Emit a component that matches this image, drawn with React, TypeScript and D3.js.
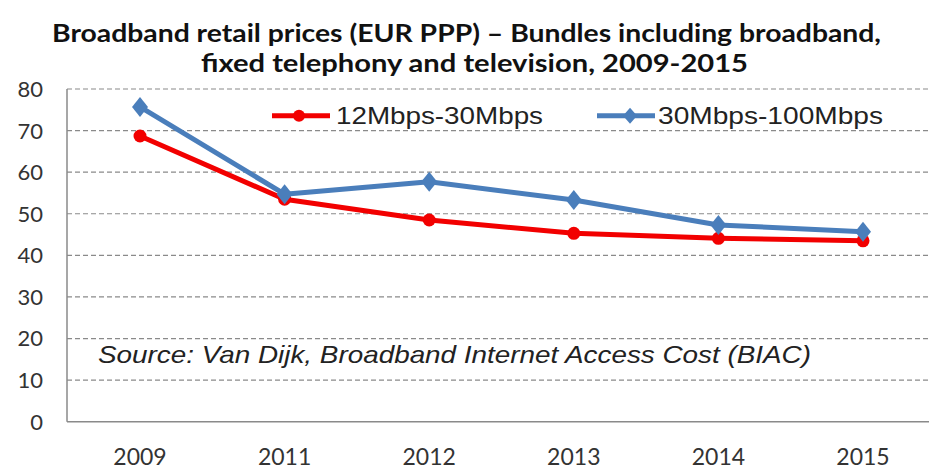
import React from "react";
import * as d3 from "d3";

const years = ["2009", "2011", "2012", "2013", "2014", "2015"];
const seriesLow = [68.7, 53.5, 48.5, 45.3, 44.1, 43.5];
const seriesHigh = [75.7, 54.7, 57.7, 53.3, 47.3, 45.7];
const seriesNames = ["12Mbps-30Mbps", "30Mbps-100Mbps"];
const yTicks = [0, 10, 20, 30, 40, 50, 60, 70, 80];
const titleLines = [
  "Broadband retail prices (EUR PPP) \u2013 Bundles including broadband,",
  "fixed telephony and television, 2009-2015",
];
const sourceNote = "Source: Van Dijk, Broadband Internet Access Cost (BIAC)";

const W = 929;
const H = 470;
const RED = "#F20000";
const BLUE = "#4A7EBB";

export default function App() {
  const x = d3.scaleBand<string>().domain(years).range([67.7, 935.3]).padding(0);
  const y = d3.scaleLinear().domain([0, 80]).range([421.7, 89]);
  const cx = (d: string) => (x(d) as number) + x.bandwidth() / 2;

  const line = d3
    .line<number>()
    .x((_, i) => cx(years[i]))
    .y((v) => y(v));

  const diamond = "M0,-10L8,0L0,10L-8,0Z";
  const smallDiamond = "M0,-8L7,0L0,8L-7,0Z";

  return (
    <svg
      width={W}
      height={H}
      style={{ position: "absolute", left: 0, top: 0, background: "#fff" }}
    >
      <rect width={W} height={H} fill="#fff" />
      {/* title */}
      <g fontFamily="Lato, 'Open Sans', sans-serif" fontWeight="bold" fontSize={25} fill="#111">
        <text x={52} y={42} textLength={829} lengthAdjust="spacingAndGlyphs">
          {titleLines[0]}
        </text>
        <text x={201} y={72} textLength={547} lengthAdjust="spacingAndGlyphs">
          {titleLines[1]}
        </text>
      </g>

      {/* gridlines */}
      {yTicks
        .filter((t) => t > 0)
        .map((t) => (
          <line
            key={t}
            x1={67}
            x2={W}
            y1={y(t)}
            y2={y(t)}
            stroke="#8a8a8a"
            strokeWidth={1.2}
            strokeDasharray="5,3"
          />
        ))}
      {/* axes */}
      <line x1={67} x2={67} y1={y(80)} y2={y(0)} stroke="#8a8a8a" strokeWidth={1.5} />
      <line x1={67} x2={W} y1={y(0)} y2={y(0)} stroke="#8a8a8a" strokeWidth={1.5} />

      {/* y tick labels */}
      <g fontFamily="Lato, 'Open Sans', sans-serif" fontSize={22} fill="#333" textAnchor="end">
        {yTicks.map((t) => (
          <text key={t} x={43} y={y(t)} dy="0.36em">
            {t}
          </text>
        ))}
      </g>

      {/* x tick labels */}
      <g fontFamily="Lato, 'Open Sans', sans-serif" fontSize={23} fill="#333" textAnchor="middle">
        {years.map((yr) => (
          <text key={yr} x={cx(yr)} y={465}>
            {yr}
          </text>
        ))}
      </g>

      {/* source note */}
      <text
        x={98}
        y={363}
        fontFamily="'Liberation Sans', Arial, sans-serif"
        fontStyle="italic"
        fontSize={24}
        fill="#222"
        textLength={713}
        lengthAdjust="spacingAndGlyphs"
      >
        {sourceNote}
      </text>

      {/* lines */}
      <path d={line(seriesLow) || ""} fill="none" stroke={RED} strokeWidth={5} strokeLinejoin="round" />
      <path d={line(seriesHigh) || ""} fill="none" stroke={BLUE} strokeWidth={5} strokeLinejoin="round" />
      {seriesLow.map((v, i) => (
        <circle key={"r" + i} cx={cx(years[i])} cy={y(v)} r={6.5} fill={RED} />
      ))}
      {seriesHigh.map((v, i) => (
        <path
          key={"b" + i}
          d={diamond}
          transform={`translate(${cx(years[i])},${y(v)})`}
          fill={BLUE}
        />
      ))}

      {/* legend */}
      <g>
        <line x1={272} x2={330} y1={115.7} y2={115.7} stroke={RED} strokeWidth={5} />
        <circle cx={299} cy={115.7} r={6} fill={RED} />
        <text
          x={336}
          y={124}
          fontFamily="'Liberation Sans', Arial, sans-serif"
          fontSize={24}
          fill="#222"
          textLength={207}
          lengthAdjust="spacingAndGlyphs"
        >
          {seriesNames[0]}
        </text>
        <line x1={597} x2={655} y1={115.7} y2={115.7} stroke={BLUE} strokeWidth={5} />
        <path d={smallDiamond} transform="translate(630,115.7)" fill={BLUE} />
        <text
          x={658}
          y={124}
          fontFamily="'Liberation Sans', Arial, sans-serif"
          fontSize={24}
          fill="#222"
          textLength={225}
          lengthAdjust="spacingAndGlyphs"
        >
          {seriesNames[1]}
        </text>
      </g>
    </svg>
  );
}
